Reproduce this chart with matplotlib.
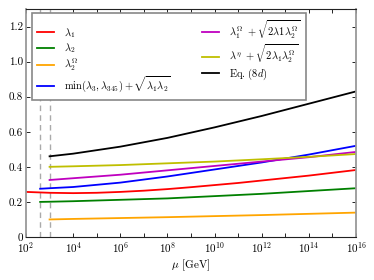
import matplotlib
matplotlib.use('Agg')
import matplotlib.pyplot as plt
from matplotlib.ticker import NullFormatter
import numpy as np

plt.rcParams['font.family'] = 'serif'
plt.rcParams['font.serif'] = ['cmr10']
plt.rcParams['mathtext.fontset'] = 'cm'
plt.rcParams['axes.formatter.use_mathtext'] = True
plt.rcParams['axes.unicode_minus'] = False

# log10(mu / GeV) grid for each curve, with values
logmu_red = [2, 3, 4, 5, 6, 7, 8, 9, 10, 11, 12, 13, 14, 15, 16]
lam1 = [0.257, 0.252, 0.250, 0.252, 0.257, 0.264, 0.273, 0.284, 0.296, 0.308, 0.322, 0.336, 0.350, 0.366, 0.382]

logmu_400 = [2.6, 3, 4, 6, 8, 10, 12, 14, 16]
lam2 = [0.200, 0.201, 0.204, 0.212, 0.220, 0.233, 0.246, 0.262, 0.278]
min_combo = [0.275, 0.278, 0.285, 0.310, 0.345, 0.385, 0.425, 0.470, 0.520]

logmu_1000 = [3, 4, 6, 8, 10, 12, 14, 16]
lam2_omega = [0.100, 0.103, 0.108, 0.113, 0.119, 0.125, 0.132, 0.139]
lam1_omega_combo = [0.325, 0.335, 0.355, 0.380, 0.405, 0.430, 0.455, 0.485]
lam_eta_combo = [0.400, 0.403, 0.410, 0.420, 0.430, 0.443, 0.457, 0.473]
eq_8d = [0.460, 0.475, 0.515, 0.565, 0.625, 0.690, 0.760, 0.830]

vlines = [400, 1000]

fig = plt.figure(figsize=(3.74, 2.80), dpi=100)
ax = fig.add_axes([0.0695, 0.1536, 0.8825, 0.8144])

for v in vlines:
    ax.axvline(v, color='#aaaaaa', linestyle='--', linewidth=1.0, dashes=(4, 3))

lw = 1.3
ax.plot(10.0 ** np.array(logmu_red), lam1, color='r', lw=lw, label=r'$\lambda_1$')
ax.plot(10.0 ** np.array(logmu_400), lam2, color=(0, 0.5, 0), lw=lw, label=r'$\lambda_2$')
ax.plot(10.0 ** np.array(logmu_1000), lam2_omega, color='orange', lw=lw, label=r'$\lambda_2^\Omega$')
ax.plot(10.0 ** np.array(logmu_400), min_combo, color='b', lw=lw,
        label=r'$\min(\lambda_3,\lambda_{345})+\sqrt{\lambda_1\lambda_2}$')
ax.plot(10.0 ** np.array(logmu_1000), lam1_omega_combo, color=(0.75, 0, 0.75), lw=lw,
        label=r'$\lambda_1^\Omega\ +\sqrt{2\lambda1\lambda_2^\Omega}$')
ax.plot(10.0 ** np.array(logmu_1000), lam_eta_combo, color=(0.75, 0.75, 0), lw=lw,
        label=r'$\lambda^\eta\ +\sqrt{2\lambda_1\lambda_2^\Omega}$')
ax.plot(10.0 ** np.array(logmu_1000), eq_8d, color='k', lw=lw, label=r'Eq. $(8d)$')

ax.set_xscale('log')
ax.set_xlim(1e2, 1e16)
ax.set_ylim(0, 1.3)
ax.set_xticks([10.0 ** k for k in range(2, 17, 2)])
ax.set_xticks([10.0 ** k for k in range(3, 16, 2)], minor=True)
ax.xaxis.set_minor_formatter(NullFormatter())
ax.set_yticks([0, 0.2, 0.4, 0.6, 0.8, 1.0, 1.2])
ax.set_yticklabels(['0', '0.2', '0.4', '0.6', '0.8', '1.0', '1.2'])
ax.tick_params(which='both', direction='in', top=True, right=True, labelsize=8, length=3, width=0.6, pad=2)

for s in ['left', 'right']:
    ax.spines[s].set_color('#999999')
    ax.spines[s].set_linewidth(1.3)
for s in ['top', 'bottom']:
    ax.spines[s].set_color('#222222')
    ax.spines[s].set_linewidth(0.8)

ax.set_xlabel(r'$\mu$ [GeV]', fontsize=8, labelpad=2)

leg = ax.legend(loc='upper left', ncol=2, fontsize=7.5, fancybox=False, edgecolor='#888888',
                framealpha=1, handlelength=1.6, handletextpad=1.0, columnspacing=3.0,
                borderpad=0.5, labelspacing=0.15, borderaxespad=0, bbox_to_anchor=(0.018, 0.983))
leg.get_frame().set_linewidth(1.2)

fig.savefig('out.png', dpi=100)
